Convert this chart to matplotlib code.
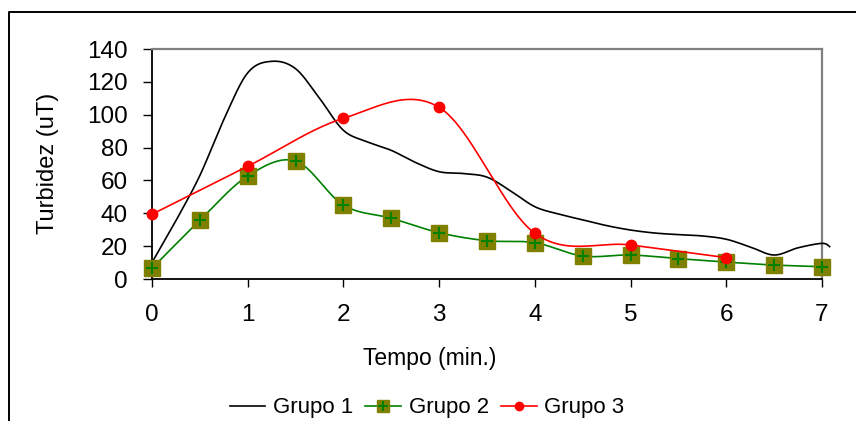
import numpy as np
import matplotlib
matplotlib.use("Agg")
import matplotlib.pyplot as plt
from matplotlib.lines import Line2D

plt.rcParams['font.family'] = ['Liberation Sans', 'DejaVu Sans']

# Grupo 1 (no markers)
g1_x = [0, 0.25, 0.5, 0.75, 1.0, 1.25, 1.5, 1.75, 2.0, 2.25, 2.5, 2.75, 3.0, 3.25,
        3.5, 3.75, 4.0, 4.25, 4.5, 4.75, 5.0, 5.25, 5.5, 5.75, 6.0, 6.25, 6.5,
        6.75, 7.0, 7.08]
g1_y = [10, 35.5, 63, 97, 125.5, 132.5, 128, 110, 90.5, 83.5, 78.3, 71, 65.3, 64.2,
        62, 53.5, 44, 39.5, 36, 32.5, 29.8, 28, 27, 26.2, 24.2, 19.5, 14.6,
        19, 21.7, 19.7]

# Grupo 2
g2_x = [0, 0.5, 1, 1.5, 2, 2.5, 3, 3.5, 4, 4.5, 5, 5.5, 6, 6.5, 7]
g2_y = [6.5, 35.7, 62.7, 71.8, 45, 37, 28.2, 23.3, 22.1, 14, 14.6, 12.4, 10.3, 8.5, 7.5]

# Grupo 3
g3_x = [0, 1, 2, 3, 4, 5, 6]
g3_y = [39.4, 68.6, 97.8, 104.5, 27.8, 20.7, 13]

y_ticks = [0, 20, 40, 60, 80, 100, 120, 140]
x_ticks = [0, 1, 2, 3, 4, 5, 6, 7]


def smooth(xs, ys, n=24):
    # excel style smoothed line (bezier through the points)
    p = np.column_stack([xs, ys]).astype(float)
    out = []
    for i in range(len(p) - 1):
        p0 = p[max(i - 1, 0)]
        p1 = p[i]
        p2 = p[i + 1]
        p3 = p[min(i + 2, len(p) - 1)]
        c1 = p1 + (p2 - p0) / 6
        c2 = p2 - (p3 - p1) / 6
        t = np.linspace(0, 1, n)[:, None]
        seg = (1 - t)**3 * p1 + 3 * (1 - t)**2 * t * c1 + 3 * (1 - t) * t**2 * c2 + t**3 * p2
        out.append(seg if i == 0 else seg[1:])
    s = np.vstack(out)
    return s[:, 0], s[:, 1]


W, H = 856, 421
fig = plt.figure(figsize=(W / 100, H / 100), dpi=100)
ax = fig.add_axes([152 / W, 1 - 279 / H, (822 - 152) / W, (279 - 49) / H])

sx, sy = smooth(g1_x, g1_y)
ax.plot(sx, sy, color='black', lw=1.2, clip_on=False, zorder=3)

sx, sy = smooth(g2_x, g2_y)
ax.plot(sx, sy, color='#008000', lw=1.2, zorder=4)
ax.plot(g2_x, g2_y, ls='none', marker='s', ms=11.5, mfc='#808000', mec='#808000',
        clip_on=False, zorder=5)
ax.plot(g2_x, g2_y, ls='none', marker='+', ms=8, mew=1.5, color='#008000',
        clip_on=False, zorder=6)

sx, sy = smooth(g3_x, g3_y)
ax.plot(sx, sy, color='red', lw=1.2, zorder=7)
ax.plot(g3_x, g3_y, ls='none', marker='o', ms=7.5, mfc='red', mec='red',
        clip_on=False, zorder=8)

ax.set_xlim(0, 7)
ax.set_ylim(0, 140)
ax.set_xticks(x_ticks)
ax.set_yticks(y_ticks)
ax.tick_params(axis='both', direction='out', labelsize=17.5, width=1, color='black')
ax.tick_params(axis='x', length=6, pad=12)
ax.tick_params(axis='y', length=6.5, pad=11)

for s in ['left', 'bottom']:
    ax.spines[s].set_color('black')
    ax.spines[s].set_linewidth(1.3)
for s in ['top', 'right']:
    ax.spines[s].set_color('#808080')
    ax.spines[s].set_linewidth(1.6)

fig.text(48 / W, 1 - 163 / H, 'Turbidez (uT)', rotation=90, ha='center', va='center',
         fontsize=17)
fig.text(430 / W, 1 - 358 / H, 'Tempo (min.)', ha='center', va='center', fontsize=16.5)

# legend proxies
h1 = Line2D([], [], color='black', lw=1.2)
h2a = Line2D([], [], color='#008000', lw=1.2, marker='s', ms=9, mfc='#808000', mec='#808000')
h2b = Line2D([], [], ls='none', marker='+', ms=7, mew=1.5, color='#008000')
h3 = Line2D([], [], color='red', lw=1.2, marker='o', ms=6, mfc='red', mec='red')
fig.legend([h1, (h2a, h2b), h3], ['Grupo 1', 'Grupo 2', 'Grupo 3'], loc='center',
           bbox_to_anchor=(427 / W, 1 - 408 / H), ncol=3, frameon=False, fontsize=16,
           handlelength=1.6, handletextpad=0.35, columnspacing=0.55, borderaxespad=0)

# outer chart frame (cut off at right and bottom)
fig.add_artist(Line2D([8.5 / W, 8.5 / W, 1.0], [0, 1 - 12 / H, 1 - 12 / H],
                      color='black', lw=1.4, transform=fig.transFigure))

fig.savefig('out.png', dpi=100)
